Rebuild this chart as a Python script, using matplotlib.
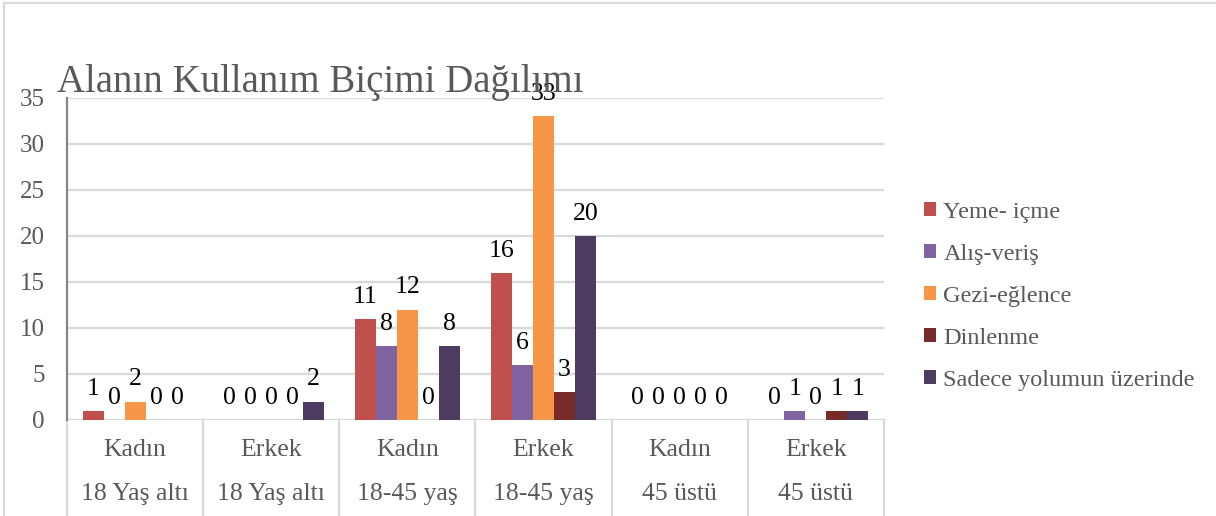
import matplotlib
matplotlib.use("Agg")
import matplotlib.pyplot as plt
from matplotlib.patches import Patch
from matplotlib.lines import Line2D
from matplotlib.transforms import blended_transform_factory

plt.rcParams['font.family'] = ['Liberation Serif', 'DejaVu Serif']

genders = ["Kadın", "Erkek", "Kadın", "Erkek", "Kadın", "Erkek"]
age_groups = ["18 Yaş altı", "18 Yaş altı", "18-45 yaş", "18-45 yaş", "45 üstü", "45 üstü"]

series_names = ["Yeme- içme", "Alış-veriş", "Gezi-eğlence", "Dinlenme",
                "Sadece yolumun üzerinde"]
yeme_icme = [1, 0, 11, 16, 0, 0]
alis_veris = [0, 0, 8, 6, 0, 1]
gezi_eglence = [2, 0, 12, 33, 0, 0]
dinlenme = [0, 0, 0, 3, 0, 1]
yolumun_uzerinde = [0, 2, 8, 20, 0, 1]
series_values = [yeme_icme, alis_veris, gezi_eglence, dinlenme, yolumun_uzerinde]
colors = ["#C0504D", "#8064A2", "#F79646", "#772C2A", "#4D3B62"]

W, H = 1216, 516
fig = plt.figure(figsize=(W / 100, H / 100), dpi=100)
fig.patch.set_facecolor("white")

# plot area in pixel terms
left, right, bottom, top = 67, 884, 420, 98
ax = fig.add_axes([left / W, 1 - bottom / H, (right - left) / W, (bottom - top) / H])

n = len(genders)
bar_w = 0.154
for j, (name, vals, col) in enumerate(zip(series_names, series_values, colors)):
    xs = [i + (j - 2) * bar_w for i in range(n)]
    ax.bar(xs, vals, width=bar_w, color=col, label=name, zorder=3)
    for x, v in zip(xs, vals):
        ax.annotate(str(v), (x, v), xytext=(0, 8), textcoords="offset points",
                    ha="center", va="bottom", fontsize=18.5, color="black",
                    zorder=4, annotation_clip=False)

ax.set_xlim(-0.5, n - 0.5)
ax.set_ylim(0, 35)
ax.set_yticks(range(0, 36, 5))
ax.tick_params(axis="y", length=0, pad=16, labelsize=18, labelcolor="#595959")
ax.set_xticks([])
ax.grid(axis="y", color="#D9D9D9", linewidth=1.6, zorder=0)
for s in ["top", "right", "bottom"]:
    ax.spines[s].set_visible(False)
ax.spines["left"].set_color("#868686")
ax.spines["left"].set_linewidth(1.6)
ax.spines["left"].set_zorder(5)

# two-level category labels and separators below the axis
trans = blended_transform_factory(ax.transData, ax.transAxes)
ph = bottom - top
for i in range(n + 1):
    ax.add_line(Line2D([i - 0.5, i - 0.5], [0, -(H - bottom + 5) / ph],
                       transform=trans, color="#D9D9D9", linewidth=1.6,
                       clip_on=False))
for i in range(n):
    ax.text(i, -(450 - bottom) / ph, genders[i], transform=trans, ha="center",
            va="center", fontsize=18.5, color="#595959")
    ax.text(i, -(494 - bottom) / ph, age_groups[i], transform=trans, ha="center",
            va="center", fontsize=18.5, color="#595959")

fig.text(57 / W, 1 - 92 / H, "Alanın Kullanım Biçimi Dağılımı", ha="left",
         va="baseline", fontsize=28, color="#595959")

handles = [Patch(facecolor=c, edgecolor="none") for c in colors]
leg = fig.legend(handles, series_names, loc="upper left",
                 bbox_to_anchor=(924 / W, 1 - 202 / H), frameon=False,
                 fontsize=17.5, handlelength=0.5, handleheight=0.5,
                 handletextpad=0.3, labelspacing=0.86, borderpad=0,
                 borderaxespad=0)
for t in leg.get_texts():
    t.set_color("#595959")

# chart area border
fig.add_artist(Line2D([4 / W, 4 / W], [0, 1 - 3 / H], transform=fig.transFigure,
                      color="#D9D9D9", linewidth=1.6))
fig.add_artist(Line2D([4 / W, 1], [1 - 3 / H, 1 - 3 / H], transform=fig.transFigure,
                      color="#D9D9D9", linewidth=1.6))

fig.savefig("out.png", dpi=100)
